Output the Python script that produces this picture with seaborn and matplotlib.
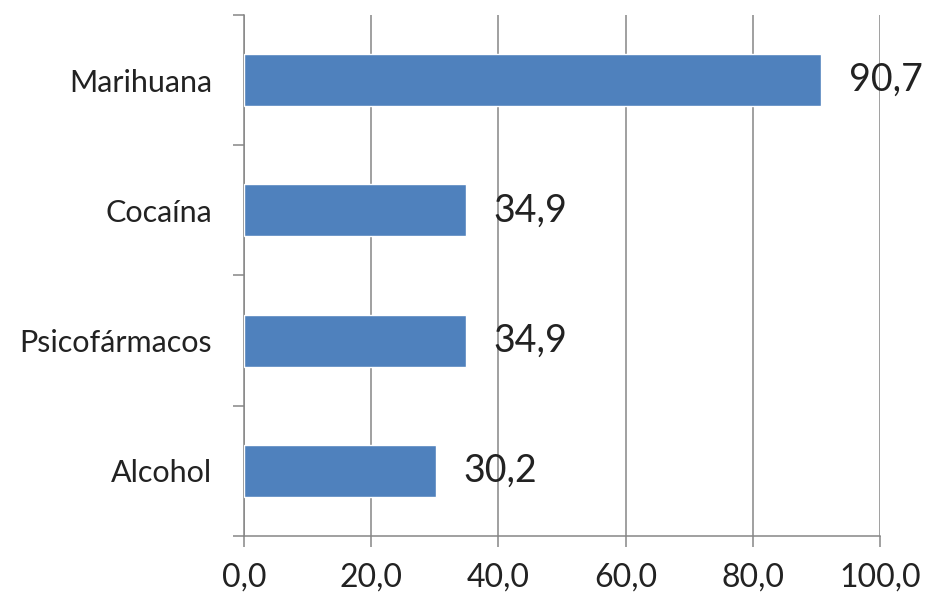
import matplotlib
matplotlib.use("Agg")
import matplotlib.pyplot as plt
import seaborn as sns
import pandas as pd
from matplotlib.ticker import FixedLocator, MultipleLocator, FuncFormatter

sustancias = ["Marihuana", "Cocaína", "Psicofármacos", "Alcohol"]
porcentajes = [90.7, 34.9, 34.9, 30.2]
etiquetas = ["90,7", "34,9", "34,9", "30,2"]

df = pd.DataFrame({"sustancia": sustancias, "porcentaje": porcentajes})

sns.set_style("white")
plt.rcParams["font.family"] = ["Lato", "DejaVu Sans"]

fig = plt.figure(figsize=(9.26, 5.95), dpi=100)
ax = fig.add_axes([0.2635, 0.0992, 0.6868, 0.8756])

sns.barplot(data=df, x="porcentaje", y="sustancia", orient="h", color="#4F81BD",
            saturation=1, width=0.4, ax=ax, zorder=3)

gris = "#868686"
ax.set_xlim(0, 100)
ax.set_ylim(3.5, -0.5)
ax.xaxis.set_major_locator(MultipleLocator(20))
ax.xaxis.set_major_formatter(FuncFormatter(lambda v, p: f"{v:.1f}".replace(".", ",")))
ax.grid(axis="x", color=gris, linewidth=1.1, zorder=0)
ax.grid(axis="y", visible=False)

for lado in ["top", "right"]:
    ax.spines[lado].set_visible(False)
for lado in ["left", "bottom"]:
    ax.spines[lado].set_color(gris)
    ax.spines[lado].set_linewidth(1.1)

ax.yaxis.set_minor_locator(FixedLocator([-0.5, 0.5, 1.5, 2.5, 3.5]))
ax.tick_params(axis="y", which="major", length=0, pad=23, labelsize=22, labelcolor="#222222")
ax.tick_params(axis="y", which="minor", length=8, width=1.1, color=gris, left=True)
ax.tick_params(axis="x", which="major", length=8, width=1.1, color=gris, bottom=True,
               pad=11, labelsize=23, labelcolor="#222222")

ax.bar_label(ax.containers[0], labels=etiquetas, padding=20, fontsize=27, color="#222222")
ax.set_xlabel("")
ax.set_ylabel("")

fig.savefig("out.png", dpi=100)
